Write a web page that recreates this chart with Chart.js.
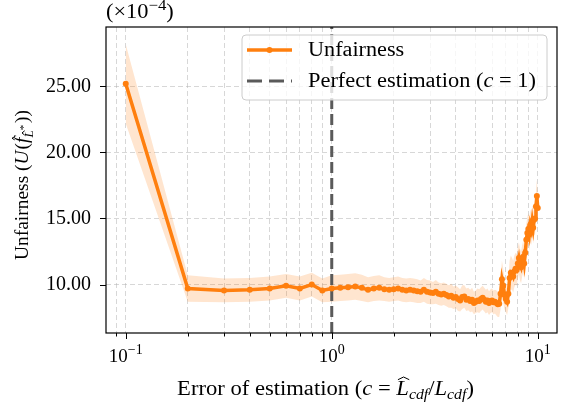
<!DOCTYPE html>
<html>
<head>
<meta charset="utf-8">
<script src="https://cdn.jsdelivr.net/npm/chart.js@4.4.1/dist/chart.umd.min.js"></script>
<style>
  html, body { margin: 0; padding: 0; background: #fff; }
  #wrap { width: 567px; height: 407px; }
</style>
</head>
<body>
<div id="wrap"><canvas id="chart" width="567" height="407"></canvas></div>
<script>
/* DATA */

const errorC = [
  0.1, 0.2, 0.3, 0.4, 0.5, 0.6, 0.7, 0.8, 0.9,
  1.0, 1.1, 1.2, 1.3, 1.4, 1.5, 1.6, 1.7, 1.8, 1.9,
  2.0, 2.1, 2.2, 2.3, 2.4, 2.5, 2.6, 2.7, 2.8, 2.9,
  3.0, 3.1, 3.2, 3.3, 3.4, 3.5, 3.6, 3.7, 3.8, 3.9,
  4.0, 4.1, 4.2, 4.3, 4.4, 4.5, 4.6, 4.7, 4.8, 4.9,
  5.0, 5.1, 5.2, 5.3, 5.4, 5.5, 5.6, 5.7, 5.8, 5.9,
  6.0, 6.1, 6.2, 6.3, 6.4, 6.5, 6.6, 6.7, 6.8, 6.9,
  7.0, 7.1, 7.2, 7.3, 7.4, 7.5, 7.6, 7.7, 7.8, 7.9,
  8.0, 8.1, 8.2, 8.3, 8.4, 8.5, 8.6, 8.7, 8.8, 8.9,
  9.0, 9.1, 9.2, 9.3, 9.4, 9.5, 9.6, 9.7, 9.8, 9.9,
  10.0
];

// unfairness (x 1e-4)
const unfairness = [
  25.2, 9.7, 9.55, 9.6, 9.7, 9.9, 9.7, 10.0, 9.55,
  9.7, 9.75, 9.8, 9.85, 9.75, 9.6, 9.7, 9.75, 9.65, 9.6,
  9.65, 9.7, 9.6, 9.55, 9.6, 9.55, 9.5, 9.45, 9.6, 9.45,
  9.4, 9.35, 9.45, 9.3, 9.25, 9.3, 9.2, 9.1, 9.15, 9.0,
  9.05, 8.9, 8.8, 9.05, 9.1, 8.85, 8.9, 8.75, 8.85, 8.6,
  8.7, 8.8, 8.75, 8.9, 9.0, 8.85, 8.7, 8.8, 8.6, 8.75,
  8.8, 8.65, 8.7, 8.6, 8.5, 8.55, 9.3, 10.4, 9.9, 9.2,
  8.9, 8.7, 9.3, 10.5, 10.9, 10.8, 10.6, 11.0, 11.2, 11.1,
  11.6, 12.0, 11.5, 11.3, 11.8, 12.1, 11.6, 12.4, 13.4, 13.9,
  14.2, 13.8, 14.5, 14.2, 14.8, 14.3, 14.9, 15.0, 15.9, 16.7,
  15.8
];

// half width of the shaded band
const spread = [
  3.0, 1.0, 0.9, 0.9, 0.9, 0.9, 0.9, 0.9, 0.9,
  1.0, 1.0, 1.0, 1.0, 1.0, 0.95, 0.95, 0.95, 0.9, 0.9,
  0.9, 0.9, 0.9, 0.9, 0.9, 0.9, 0.9, 0.85, 0.9, 0.9,
  0.9, 0.85, 0.9, 0.85, 0.85, 0.85, 0.85, 0.85, 0.9, 0.85,
  0.85, 0.9, 0.85, 0.9, 0.85, 0.85, 0.85, 0.85, 0.9, 0.85,
  0.85, 0.9, 0.9, 0.9, 0.9, 0.9, 0.9, 0.9, 0.9, 0.9,
  0.9, 0.9, 0.9, 0.95, 0.95, 1.0, 1.2, 1.4, 1.3, 1.1,
  1.0, 1.0, 1.1, 1.3, 1.3, 1.2, 1.2, 1.2, 1.2, 1.2,
  1.2, 1.2, 1.2, 1.2, 1.2, 1.2, 1.2, 1.2, 1.2, 1.2,
  1.2, 1.2, 1.2, 1.2, 1.2, 1.2, 1.2, 1.2, 1.2, 1.2,
  1.2
];

const perfectC = 1;

const xGrid = [
  0.09, 0.1, 0.2, 0.3, 0.4, 0.5, 0.6, 0.7, 0.8, 0.9,
  1, 2, 3, 4, 5, 6, 7, 8, 9, 10
];
const xMajor = [0.1, 1, 10];
const xMajorExp = ["\u22121", "0", "1"];
const yTicks = [10, 15, 20, 25];

const xMin = 0.0802;
const xMax = 12.4;
const yMin = 6.33;
const yMax = 29.5;

/* STYLE */

const ORANGE = "#ff7f0e";
const GRAY = "#5a5a5a";
const SERIF = '"Liberation Serif", "DejaVu Serif", serif';

/* RICH TEXT */

function segWidth(ctx, segs, sx = 1){
  let w = 0;
  segs.forEach(s => {
    ctx.font = s.font;
    w += ctx.measureText(s.t).width * sx + (s.gap || 0);
  });
  return w;
}

function drawHat(ctx, x, y, w, h, wide){
  ctx.save();
  ctx.lineWidth = 1;
  ctx.strokeStyle = "#000";
  ctx.beginPath();
  const a = wide ? 0.05 : 0.2;
  ctx.moveTo(x + w * a, y + h * 0.45);
  ctx.lineTo(x + w * 0.5, y);
  ctx.lineTo(x + w * (1 - a), y + h * 0.45);
  ctx.stroke();
  ctx.restore();
}

function drawRich(ctx, segs, x, y, sx = 1){
  segs.forEach(s => {
    ctx.font = s.font;
    const w = ctx.measureText(s.t).width * sx;
    const by = y + (s.dy || 0);
    ctx.save();
    ctx.translate(x, by);
    ctx.scale(sx, 1);
    ctx.fillText(s.t, 0, 0);
    ctx.restore();
    if(s.hat){
      drawHat(ctx, x + (s.hx || 0), by - s.hat, w, 6, s.wide);
    }
    x += w + (s.gap || 0);
  });
}

/* PLUGIN: frame, ticks, texts, legend */

const decorPlugin = {
  id: "decor",
  afterDraw(chart){
    const ctx = chart.ctx;
    const area = chart.chartArea;
    const xs = chart.scales.x;
    const ys = chart.scales.y;

    ctx.save();
    ctx.fillStyle = "#000";
    ctx.strokeStyle = "#000";

    // tick marks
    ctx.lineWidth = 1;
    xGrid.forEach(v => {
      const px = Math.round(xs.getPixelForValue(v)) + 0.5;
      const len = xMajor.includes(v) ? 6 : 3.5;
      ctx.beginPath();
      ctx.moveTo(px, area.bottom);
      ctx.lineTo(px, area.bottom + len);
      ctx.stroke();
    });
    yTicks.forEach(v => {
      const py = Math.round(ys.getPixelForValue(v)) + 0.5;
      ctx.beginPath();
      ctx.moveTo(area.left, py);
      ctx.lineTo(area.left - 6, py);
      ctx.stroke();
    });

    // frame
    ctx.lineWidth = 1.2;
    ctx.strokeRect(area.left, area.top, area.right - area.left, area.bottom - area.top);

    // x tick labels
    ctx.textBaseline = "alphabetic";
    xMajor.forEach((v, i) => {
      const segs = [
        {t: "10", font: "19px " + SERIF},
        {t: xMajorExp[i], font: "14px " + SERIF, dy: -8}
      ];
      const w = segWidth(ctx, segs);
      drawRich(ctx, segs, xs.getPixelForValue(v) - w / 2, 362);
    });

    // x title
    const xt = [
      {t: "Error of estimation (", font: "20px " + SERIF},
      {t: "c", font: "italic 20px " + SERIF},
      {t: " = ", font: "20px " + SERIF},
      {t: "L", font: "italic 20px " + SERIF, hat: 18, hx: 1, wide: true},
      {t: "cdf", font: "italic 14px " + SERIF, dy: 4},
      {t: "/", font: "20px " + SERIF},
      {t: "L", font: "italic 20px " + SERIF},
      {t: "cdf", font: "italic 14px " + SERIF, dy: 4},
      {t: ")", font: "20px " + SERIF}
    ];
    const xtw = segWidth(ctx, xt, 1.13);
    drawRich(ctx, xt, (area.left + area.right) / 2 - xtw / 2 - 6, 395, 1.13);

    // y title
    const yt = [
      {t: "Unfairness (", font: "18px " + SERIF},
      {t: "U", font: "italic 18px " + SERIF, gap: 1},
      {t: "(", font: "18px " + SERIF},
      {t: "f", font: "italic 18px " + SERIF, hat: 16, hx: 2},
      {t: "L", font: "italic 12px " + SERIF, dy: 5, hat: 11, hx: 1},
      {t: "*", font: "10px " + SERIF, dy: -1, gap: 2},
      {t: "))", font: "18px " + SERIF}
    ];
    const ytw = segWidth(ctx, yt, 1.08);
    ctx.save();
    ctx.translate(28, 185);
    ctx.rotate(-Math.PI / 2);
    drawRich(ctx, yt, -ytw / 2, 0, 1.08);
    ctx.restore();

    // multiplier
    drawRich(ctx, [
      {t: "(\u00d710", font: "20px " + SERIF},
      {t: "\u22124", font: "15px " + SERIF, dy: -8},
      {t: ")", font: "20px " + SERIF}
    ], area.left, 18, 1.12);

    // legend
    const lx = 242, ly = 35, lw = 305, lh = 65;
    ctx.beginPath();
    ctx.roundRect(lx, ly, lw, lh, 4);
    ctx.fillStyle = "rgba(255,255,255,0.8)";
    ctx.fill();
    ctx.strokeStyle = "#cccccc";
    ctx.lineWidth = 1;
    ctx.stroke();

    ctx.lineWidth = 3.5;
    ctx.strokeStyle = ORANGE;
    ctx.beginPath();
    ctx.moveTo(247, 50);
    ctx.lineTo(292, 50);
    ctx.stroke();
    ctx.fillStyle = ORANGE;
    ctx.beginPath();
    ctx.arc(269.5, 50, 3, 0, Math.PI * 2);
    ctx.fill();

    ctx.lineWidth = 3;
    ctx.strokeStyle = GRAY;
    ctx.setLineDash([15, 7]);
    ctx.beginPath();
    ctx.moveTo(247, 81);
    ctx.lineTo(292, 81);
    ctx.stroke();
    ctx.setLineDash([]);

    ctx.fillStyle = "#000";
    drawRich(ctx, [{t: "Unfairness", font: "20px " + SERIF}], 308, 56, 1.11);
    drawRich(ctx, [
      {t: "Perfect estimation (", font: "20px " + SERIF},
      {t: "c", font: "italic 20px " + SERIF},
      {t: " = 1)", font: "20px " + SERIF}
    ], 308, 87, 1.12);

    ctx.restore();
  }
};

/* CHART */

const points = errorC.map((c, i) => ({x: c, y: unfairness[i]}));
const upper = errorC.map((c, i) => ({x: c, y: unfairness[i] + spread[i]}));
const lower = errorC.map((c, i) => ({x: c, y: unfairness[i] - spread[i]}));

new Chart(document.getElementById("chart"), {
  type: "line",
  data: {
    datasets: [
      {
        label: "band",
        data: upper,
        borderWidth: 0,
        pointRadius: 0,
        fill: "+1",
        backgroundColor: "rgba(255,127,14,0.2)",
        order: 3
      },
      {
        label: "band-low",
        data: lower,
        borderWidth: 0,
        pointRadius: 0,
        fill: false,
        order: 3
      },
      {
        label: "Unfairness",
        data: points,
        borderColor: ORANGE,
        backgroundColor: ORANGE,
        borderWidth: 3.5,
        pointRadius: 3,
        pointBorderWidth: 0,
        fill: false,
        order: 0
      },
      {
        label: "Perfect estimation",
        data: [{x: perfectC, y: yMin}, {x: perfectC, y: yMax}],
        borderColor: GRAY,
        borderWidth: 3,
        borderDash: [11, 5],
        pointRadius: 0,
        fill: false,
        order: 1
      }
    ]
  },
  options: {
    responsive: false,
    animation: false,
    events: [],
    layout: {padding: {top: 24, right: 10, left: 0, bottom: 0}},
    plugins: {
      legend: {display: false},
      tooltip: {enabled: false}
    },
    scales: {
      x: {
        type: "logarithmic",
        min: xMin,
        max: xMax,
        afterBuildTicks: s => { s.ticks = xGrid.map(v => ({value: v})); },
        afterFit: s => { s.height = 74; },
        ticks: {display: false},
        grid: {color: "rgba(176,176,176,0.5)", lineWidth: 1, drawTicks: false},
        border: {display: false, dash: [5, 3]}
      },
      y: {
        type: "linear",
        min: yMin,
        max: yMax,
        afterBuildTicks: s => { s.ticks = yTicks.map(v => ({value: v})); },
        afterFit: s => { s.width = 106; },
        ticks: {
          color: "#000",
          padding: 15,
          font: {family: SERIF, size: 20},
          callback: v => v.toFixed(2)
        },
        grid: {color: "rgba(176,176,176,0.5)", lineWidth: 1, drawTicks: false},
        border: {display: false, dash: [5, 3]}
      }
    }
  },
  plugins: [decorPlugin]
});
</script>
</body>
</html>
